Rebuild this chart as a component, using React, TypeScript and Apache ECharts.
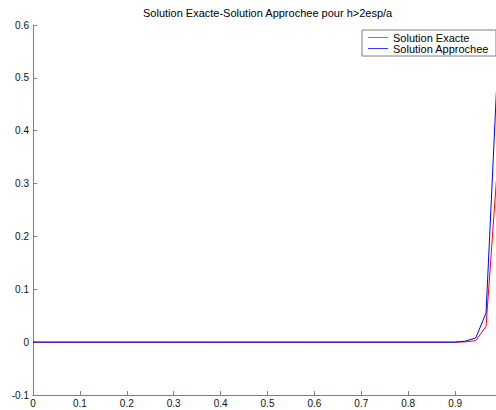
import React, { useEffect, useRef } from "react";
import * as echarts from "echarts";

const TITLE = "Solution Exacte-Solution Approchee pour h>2esp/a";
const SERIES_NAMES = ["Solution Exacte", "Solution Approchee"];
const SERIES_COLORS = ["#ff0000", "#0000ff"];
const LEGEND_COLORS = ["#ff4a4a", "#3a3aff"];
const xValues = [0, 0.1, 0.2, 0.3, 0.4, 0.5, 0.6, 0.7, 0.8, 0.9, 0.922, 0.944, 0.966, 0.988];
const exacte = [0, 0, 0, 0, 0, 0, 0, 0, 0, 0, 0.0005, 0.003, 0.03, 0.305];
const approchee = [0, 0, 0, 0, 0, 0, 0, 0, 0, 0, 0.002, 0.008, 0.055, 0.473];

export default function App() {
  const ref = useRef<HTMLDivElement>(null);
  useEffect(() => {
    if (!ref.current) return;
    const chart = echarts.init(ref.current, null, { renderer: "svg" });
    const font = "Liberation Sans, Arial, sans-serif";
    const axisColor = "#808080";
    chart.setOption({
      animation: false,
      backgroundColor: "#ffffff",
      title: {
        text: TITLE,
        left: 143,
        top: 7,
        padding: 0,
        textStyle: { fontSize: 11, fontWeight: "normal", color: "#000", fontFamily: font },
      },
      legend: {
        data: SERIES_NAMES.map((name, i) => ({
          name,
          icon: "path://M0,0 L20,0 L20,1 L0,1 Z",
          itemStyle: { color: LEGEND_COLORS[i], borderWidth: 0, opacity: 1 },
        })),
        orient: "vertical",
        left: 362,
        top: 30,
        padding: [2, 7, 2, 6],
        borderColor: axisColor,
        borderWidth: 1,
        backgroundColor: "#fff",
        itemWidth: 20,
        itemHeight: 10,
        itemGap: 0,
        symbolKeepAspect: true,
        textStyle: { fontSize: 11, color: "#000", fontFamily: font },
      },
      grid: { left: 33, right: 0, top: 25, bottom: 15, containLabel: false },
      xAxis: {
        type: "value",
        min: 0,
        max: 1,
        interval: 0.1,
        axisLine: { onZero: false, lineStyle: { color: axisColor, width: 1 } },
        axisTick: { inside: true, length: 4, lineStyle: { color: axisColor } },
        axisLabel: { fontSize: 10, color: "#111", fontFamily: font, margin: 3, showMaxLabel: false },
        splitLine: { show: false },
      },
      yAxis: {
        type: "value",
        min: -0.1,
        max: 0.6,
        interval: 0.1,
        axisLine: { show: true, onZero: false, lineStyle: { color: axisColor, width: 1 } },
        axisTick: { show: true, inside: true, length: 4, lineStyle: { color: axisColor } },
        axisLabel: { fontSize: 10, color: "#111", fontFamily: font, margin: 4 },
        splitLine: { show: false },
      },
      series: [
        {
          name: SERIES_NAMES[0],
          type: "line",
          symbol: "none",
          data: xValues.map((x, i) => [x, exacte[i]]),
          lineStyle: { color: SERIES_COLORS[0], width: 1 },
          itemStyle: { color: SERIES_COLORS[0] },
        },
        {
          name: SERIES_NAMES[1],
          type: "line",
          symbol: "none",
          data: xValues.map((x, i) => [x, approchee[i]]),
          lineStyle: { color: SERIES_COLORS[1], width: 1 },
          itemStyle: { color: SERIES_COLORS[1] },
        },
      ],
    });
    return () => chart.dispose();
  }, []);
  return (
    <div style={{ position: "fixed", left: 0, top: 0, width: 496, height: 410, overflow: "hidden" }}>
      <div ref={ref} style={{ width: 502, height: 410 }} />
    </div>
  );
}
